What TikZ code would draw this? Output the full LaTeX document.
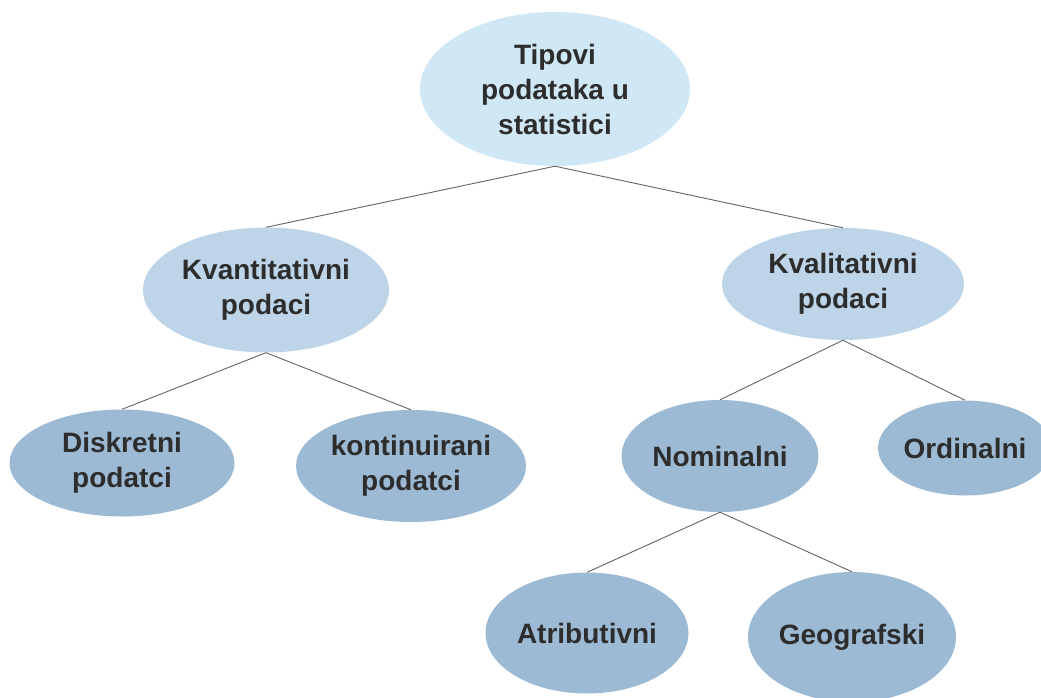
\documentclass[tikz,border=0pt]{standalone}
\usepackage{fontspec}
\setmainfont{Liberation Sans}
\usepackage{tikz}
\usetikzlibrary{positioning,shapes.geometric}
\definecolor{lvlone}{RGB}{208,232,245}
\definecolor{lvltwo}{RGB}{190,213,233}
\definecolor{lvlthree}{RGB}{156,186,212}
\definecolor{txtgray}{RGB}{45,45,45}
\definecolor{linegray}{RGB}{100,100,100}
\begin{document}
\begin{tikzpicture}[x=1pt ,y=-1pt ,
    font=\fontsize{28}{35}\selectfont\bfseries ,
    bubble/.style ={ellipse ,inner sep=0pt ,align=center ,text=txtgray},
    topbubble/.style ={bubble ,fill=lvlone},
    midbubble/.style ={bubble ,fill=lvltwo},
    lowbubble/.style ={bubble ,fill=lvlthree},
    branch/.style ={draw=linegray ,line width=0.9pt}
    ]
\useasboundingbox (0,0) rectangle (1041,697);

\node[topbubble ,minimum width=270pt ,minimum height=154pt] (T) at (555,89) {Tipovi\\podataka u\\statistici};
\node[midbubble ,minimum width=246pt ,minimum height=125pt] (KN) at (266,290) {Kvantitativni\\podaci};
\node[midbubble ,minimum width=242pt ,minimum height=112pt] (KL) at (843,284) {Kvalitativni\\podaci};
\node[lowbubble ,minimum width=225pt ,minimum height=107pt] (D) at (122,463) {Diskretni\\podatci};
\node[lowbubble ,minimum width=230pt ,minimum height=112pt] (C) at (411,466) {kontinuirani\\podatci};
\node[lowbubble ,minimum width=197pt ,minimum height=112pt] (N) at (720,456) {Nominalni};
\node[lowbubble ,minimum width=174pt ,minimum height=95pt] (O) at (965,448) {Ordinalni};
\node[lowbubble ,minimum width=203pt ,minimum height=121pt] (A) at (587,633) {Atributivni};
\node[lowbubble ,minimum width=208pt ,minimum height=130pt] (G) at (852,637) {Geografski};

\draw[branch] (T.south) -- (KN.north);
\draw[branch] (T.south) -- (KL.north);
\draw[branch] (KN.south) -- (D.north);
\draw[branch] (KN.south) -- (C.north);
\draw[branch] (KL.south) -- (N.north);
\draw[branch] (KL.south) -- (O.north);
\draw[branch] (N.south) -- (A.north);
\draw[branch] (N.south) -- (G.north);
\end{tikzpicture}
\end{document}
